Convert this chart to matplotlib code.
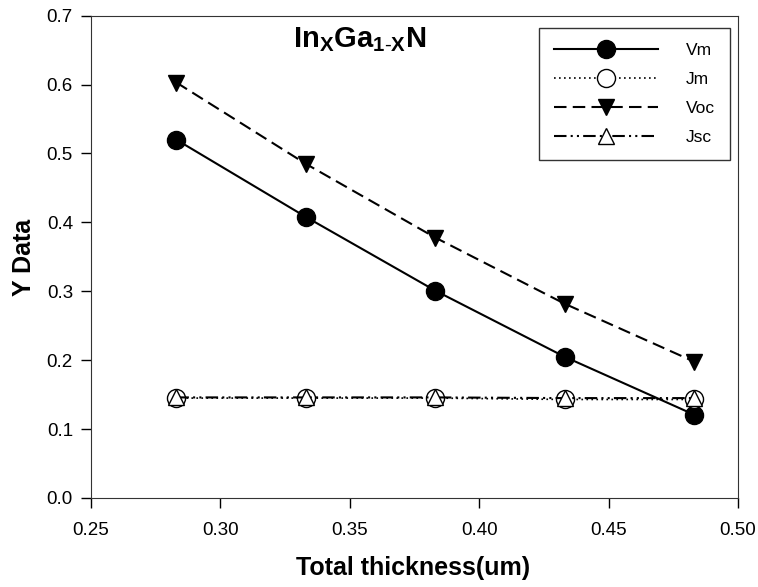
import matplotlib.pyplot as plt

plt.rcParams['font.family'] = ['Liberation Sans', 'DejaVu Sans']
plt.rcParams['mathtext.fontset'] = 'custom'
plt.rcParams['mathtext.rm'] = 'Liberation Sans'
plt.rcParams['mathtext.bf'] = 'Liberation Sans:bold'

thickness = [0.283, 0.333, 0.383, 0.433, 0.483]
vm = [0.520, 0.408, 0.301, 0.205, 0.121]
jm = [0.145, 0.145, 0.145, 0.143, 0.143]
voc = [0.603, 0.485, 0.378, 0.282, 0.198]
jsc = [0.146, 0.146, 0.146, 0.145, 0.145]

fig = plt.figure(figsize=(7.58, 5.87), dpi=100)
ax = fig.add_axes([91 / 758, 89 / 587, 647 / 758, 482.3 / 587])

ax.plot(thickness, vm, color='black', lw=1.5, ls='-', marker='o', ms=13,
        mfc='black', mec='black', label='Vm')
ax.plot(thickness, jm, color='black', lw=1.2, ls=(0, (1, 2)), marker='o', ms=13,
        mfc='white', mec='black', label='Jm')
ax.plot(thickness, voc, color='black', lw=1.5, ls=(0, (6, 3)), marker='v', ms=11,
        mfc='black', mec='black', label='Voc')
ax.plot(thickness, jsc, color='black', lw=1.5, ls=(0, (6, 2, 1, 2, 1, 2)), marker='^', ms=11,
        mfc='white', mec='black', label='Jsc')

ax.set_xlim(0.25, 0.50)
ax.set_ylim(0.0, 0.7)
ax.set_xticks([0.25, 0.30, 0.35, 0.40, 0.45, 0.50])
ax.set_yticks([0.0, 0.1, 0.2, 0.3, 0.4, 0.5, 0.6, 0.7])
ax.xaxis.set_major_formatter(plt.FormatStrFormatter('%.2f'))
ax.yaxis.set_major_formatter(plt.FormatStrFormatter('%.1f'))
ax.tick_params(direction='out', length=7, width=1, labelsize=13.5)
ax.tick_params(axis='x', pad=10)
ax.tick_params(axis='y', pad=6)
for s in ax.spines.values():
    s.set_color('#333333')

# axis titles placed in figure coordinates
fig.text(413 / 758, 1 - 568 / 587, 'Total thickness(um)', fontsize=18,
         fontweight='bold', ha='center', va='center')
fig.text(24 / 758, 1 - 257 / 587, 'Y Data', fontsize=18, fontweight='bold',
         ha='center', va='center', rotation=90)

ax.text(0.354, 0.665, r'$\mathbf{In_{X}Ga_{1\text{-}X}N}$', fontsize=21,
        ha='center', va='center')

leg = ax.legend(loc='upper right', bbox_to_anchor=(730 / 758, 1 - 28 / 587),
                bbox_transform=fig.transFigure, borderaxespad=0, fontsize=12.5,
                frameon=True, fancybox=False, edgecolor='black', handlelength=6.0,
                handletextpad=1.6, borderpad=0.85, labelspacing=0.8)
leg.get_frame().set_linewidth(1.0)

fig.savefig('out.png', dpi=100)
